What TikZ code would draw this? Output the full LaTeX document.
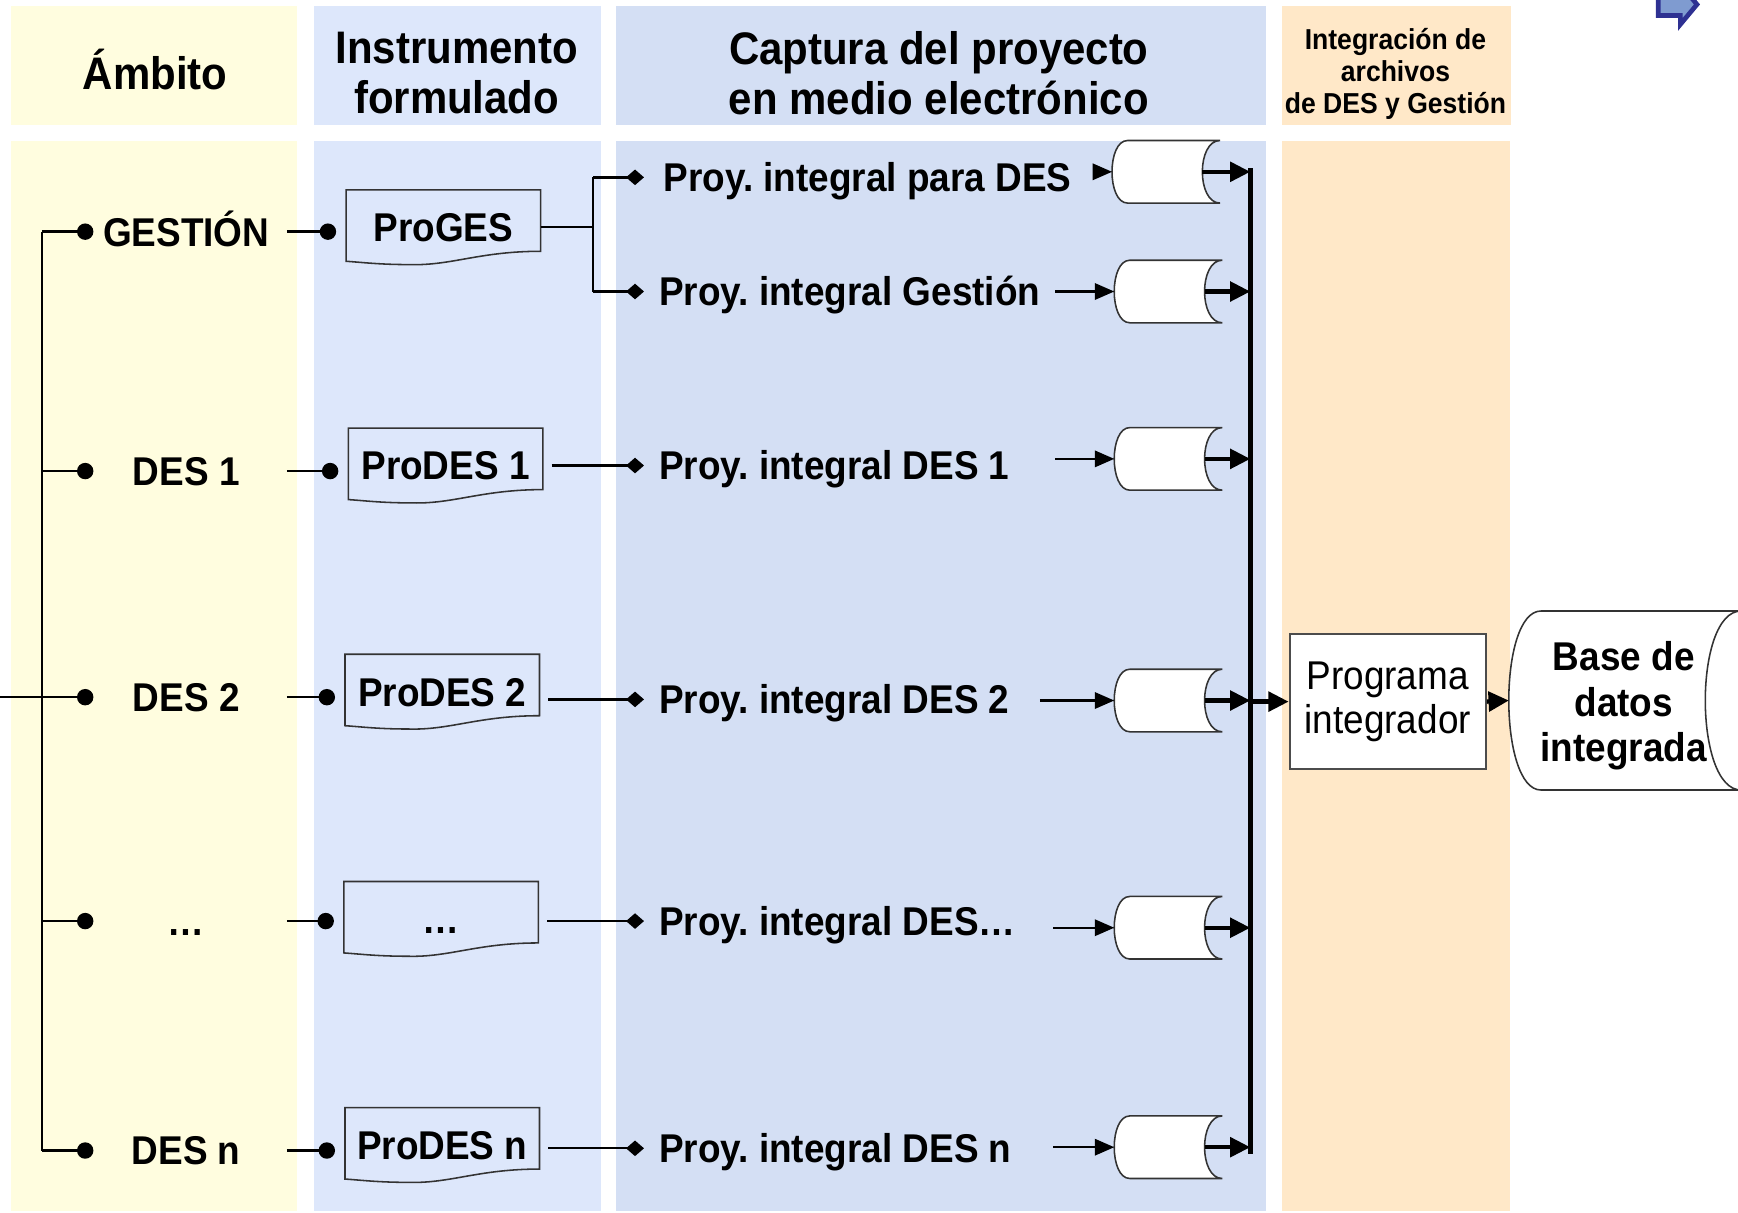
\documentclass[tikz,border=0pt]{standalone}
\usepackage{fontspec}
\setmainfont{Liberation Sans}[FakeStretch=0.92]
\usetikzlibrary{arrows.meta,positioning}
\frenchspacing

\definecolor{ambfill}{HTML}{FFFDDF}
\definecolor{insfill}{HTML}{DDE7FB}
\definecolor{capfill}{HTML}{D4DFF4}
\definecolor{intfill}{HTML}{FFE8C8}
\definecolor{iconfill}{HTML}{7F9BD0}
\definecolor{iconline}{HTML}{2E3192}

\begin{document}
\begin{tikzpicture}[
x=0.01cm, y=-0.01cm,
head/.style={font=\bfseries\fontsize{11.7}{12.8}\selectfont, align=center, inner sep=0},
smallhead/.style={font=\bfseries\fontsize{7.4}{8.2}\selectfont, align=center, inner sep=0},
amb/.style={font=\bfseries\fontsize{10.3}{12}\selectfont, minimum width=1.8cm, inner sep=0, text height=7.4pt, text depth=0pt},
doc/.style={font=\bfseries\fontsize{10.3}{12}\selectfont, minimum width=1.74cm, minimum height=0.66cm, inner sep=0, text height=7.4pt, text depth=0pt},
captlabel/.style={font=\bfseries\fontsize{10.3}{12}\selectfont, anchor=west, inner xsep=0.13cm, inner ysep=0, text height=7.4pt, text depth=0pt},
store/.style={minimum width=0.96cm, minimum height=0.55cm, inner sep=0},
shapeline/.style={draw=black!80, line width=0.4pt},
dotline/.style={line width=0.6pt, -{Circle[length=4.2pt]}},
diaarrow/.style={line width=0.6pt, -{Diamond[length=4.6pt,width=4pt]}},
thinarrow/.style={line width=0.6pt, -{Triangle[length=5pt,width=4.2pt]}},
thickarrow/.style={line width=1.1pt, -{Triangle[length=5.2pt,width=5pt]}}
]
\useasboundingbox (0,0) rectangle (1568,1094);

% column backgrounds
\fill[ambfill] (10,5) rectangle (268,113);
\fill[ambfill] (10,127) rectangle (268,1093);
\fill[insfill] (283,5) rectangle (542,113);
\fill[insfill] (283,127) rectangle (542,1093);
\fill[capfill] (556,5) rectangle (1142,113);
\fill[capfill] (556,127) rectangle (1142,1093);
\fill[intfill] (1157,5) rectangle (1363,113);
\fill[intfill] (1157,127) rectangle (1362,1093);

% icon top right
\draw[iconline, fill=iconfill, line width=1.2pt, line join=miter]
  (1496,-6) -- (1516,-6) -- (1516,-14) -- (1531,4) -- (1516,22) -- (1516,14) -- (1496,14) -- cycle;

% headers
\node[head] (hamb) at (140,63) {Ámbito};
\node[head] (hins) at (412,66) {Instrumento\\formulado};
\node[head] (hcap) at (847,66) {Captura del proyecto\\en medio electrónico};
\node[smallhead] (hint) at (1259,67) {Integración de\\archivos\\de DES y Gestión};

% ambito
\node[amb] (ges) at (168,209) {GESTIÓN};
\node[amb] (des1) at (168,425) {DES 1};
\node[amb] (des2) at (168,629) {DES 2};
\node[amb] (desx) at (168,831) {…};
\node[amb] (desn) at (168,1038) {DES n};

% instrumento
\node[doc] (proges) at (400,205) {ProGES};
\node[doc] (prodes1) at (402,420) {ProDES 1};
\node[doc] (prodes2) at (399,624) {ProDES 2};
\node[doc] (prodesx) at (398,829) {…};
\node[doc] (prodesn) at (399,1033) {ProDES n};

% captura
\node[captlabel, inner xsep=0.17cm] (cpd) at (581,160) {Proy. integral para DES};
\node[captlabel] (cgs) at (581,263) {Proy. integral Gestión};
\node[captlabel] (c1) at (581,420) {Proy. integral DES 1};
\node[captlabel] (c2) at (581,631) {Proy. integral DES 2};
\node[captlabel] (cx) at (581,831) {Proy. integral DES…};
\node[captlabel] (cn) at (581,1036) {Proy. integral DES n};

\node[store] (s1) at (1052,155) {};
\node[store] (s2) at (1054,263) {};
\node[store] (s3) at (1054,414) {};
\node[store] (s4) at (1054,632) {};
\node[store] (s5) at (1054,837) {};
\node[store] (s6) at (1054,1035) {};

% integracion
\node[draw=black!70, fill=white, line width=0.5pt, minimum width=1.77cm, minimum height=1.22cm,
  font=\fontsize{10.3}{11.4}\selectfont, align=center] (prog) at (1252,633) {Programa\\integrador};
\node[minimum width=2.08cm, minimum height=1.6cm, inner sep=0] (db) at (1466,632) {};

% shapes
\foreach \d in {proges,prodes1,prodes2,prodesx,prodesn}
  \draw[shapeline] (\d.north west) -- (\d.north east) -- ([yshift=0.12cm]\d.south east)
    .. controls ([xshift=-0.55cm,yshift=0.12cm]\d.south east) and ([xshift=0.95cm,yshift=-0.01cm]\d.south west) .. ([xshift=0.58cm]\d.south west)
    .. controls ([xshift=0.3cm]\d.south west) and ([xshift=0.15cm,yshift=0.02cm]\d.south west) .. ([yshift=0.03cm]\d.south west) -- cycle;

\foreach \s in {s1,s2,s3,s4,s5,s6}
  \draw[shapeline, fill=white] ([xshift=0.14cm]\s.north west) -- (\s.north east)
    .. controls ([xshift=-0.213cm]\s.north east) and ([xshift=-0.213cm]\s.south east) .. (\s.south east)
    -- ([xshift=0.14cm]\s.south west)
    .. controls ([xshift=-0.047cm]\s.south west) and ([xshift=-0.047cm]\s.north west) .. cycle;

\draw[shapeline, fill=white] ([xshift=0.29cm]db.north west) -- (db.north east)
    .. controls ([xshift=-0.43cm]db.north east) and ([xshift=-0.43cm]db.south east) .. (db.south east)
    -- ([xshift=0.29cm]db.south west)
    .. controls ([xshift=-0.097cm]db.south west) and ([xshift=-0.097cm]db.north west) .. cycle;
\node[align=center, font=\bfseries\fontsize{10.3}{11.7}\selectfont] (dbtext) at (1465,637) {Base de\\datos\\integrada};

% left bus
\coordinate (lbtop) at (38,209);
\coordinate (lbbot) at (38,1038);
\coordinate (lbin) at (0,629);
\draw[line width=0.6pt] (lbtop) -- (lbbot);
\draw[line width=0.6pt] (lbin) -- (des2.west -| lbtop);
\foreach \n in {ges,des1,des2,desx,desn}
  \draw[dotline] (\n.west -| lbtop) -- ([xshift=0.07cm]\n.west);

% ambito -> instrumento
\foreach \n/\d in {ges/proges,des1/prodes1,des2/prodes2,desx/prodesx,desn/prodesn}
  \draw[dotline, shorten >=0.09cm] (\n.east) -- (\n.east -| \d.west);

% instrumento -> captura
\coordinate (split) at (535,205);
\draw[line width=0.4pt] (proges.east) -- (split);
\draw[line width=0.4pt] (split |- cpd.west) -- (split |- cgs.west);
\draw[diaarrow] (split |- cpd.west) -- (cpd.west);
\draw[diaarrow] (split |- cgs.west) -- (cgs.west);
\foreach \d/\c in {prodes1/c1,prodes2/c2,prodesx/cx,prodesn/cn}
  \draw[diaarrow, shorten <=0.08cm] (\c.west -| \d.east) -- (\c.west);

% captura -> archivos
\foreach \s/\l in {s1/0.17,s2/0.53,s3/0.53,s4/0.67,s5/0.55,s6/0.55}
  \draw[thinarrow] ([xshift=-\l cm]\s.west) -- (\s.west);

% bus
\coordinate (btop) at (1128,152);
\coordinate (bbot) at (1128,1041);
\draw[line width=1.4pt] (btop) -- (bbot);
\foreach \s in {s1,s2,s3,s4,s5,s6}
  \draw[thickarrow] ([xshift=-0.16cm]\s.east) -- (\s.east -| btop);
\draw[thickarrow] (prog.west -| btop) -- (prog.west);
\draw[thickarrow] (prog.east) -- (db.west);

\end{tikzpicture}
\end{document}
